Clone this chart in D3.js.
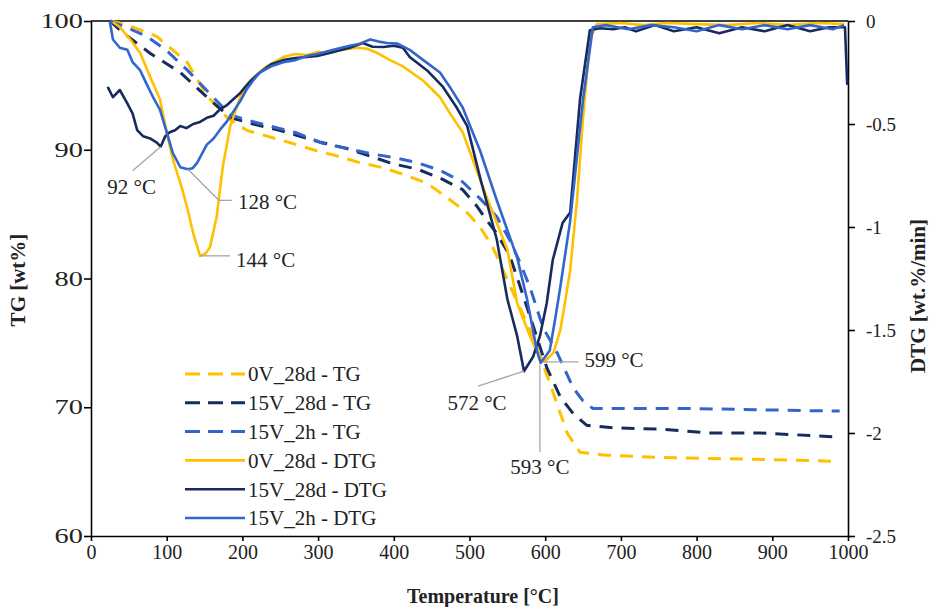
<!DOCTYPE html>
<html>
<head>
<meta charset="utf-8">
<script src="https://cdn.jsdelivr.net/npm/d3@7"></script>
<style>
  body { margin: 0; background: #fff; }
  text { font-family: "Liberation Serif", "Times New Roman", serif; fill: #222; }
</style>
</head>
<body>
<svg id="chart" width="934" height="607"></svg>
<script>
// TG / DTG curves
const tempTicks = [0, 100, 200, 300, 400, 500, 600, 700, 800, 900, 1000];
const tgTicks = [60, 70, 80, 90, 100];
const dtgTicks = [-2.5, -2, -1.5, -1, -0.5, 0];

const seriesNames = ["0V_28d", "15V_28d", "15V_2h"];
const seriesColors = ["#FFC000", "#172B5C", "#3366CC"];

// TG [wt%] vs temperature
const tg0V28d = [[25,100],[48,99.7],[87,98.8],[127,96.8],[153,94.2],[180,92.5],[206,91.5],[254,90.7],[299,89.9],[320,89.6],[355,89.0],[386,88.6],[417,88.0],[444,87.4],[470,86.3],[497,85.1],[514,84.0],[531,82.4],[553,79.5],[580,76.0],[606,71.9],[629,68.0],[646,66.5],[676,66.3],[752,66.1],[840,66.0],[927,65.9],[985,65.8]];
const tg15V28d = [[25,100],[42,99.1],[78,97.5],[118,96.0],[153,94.1],[184,92.5],[214,92.0],[250,91.5],[302,90.6],[338,90.1],[369,89.5],[399,88.9],[431,88.5],[461,87.8],[491,86.9],[510,85.6],[523,84.5],[536,83.5],[553,81.8],[573,78.3],[602,73.1],[620,70.8],[637,69.5],[655,68.6],[690,68.4],[752,68.3],[818,68.0],[884,68.0],[985,67.7]];
const tg15V2h = [[25,100],[55,99.3],[74,98.8],[100,97.7],[127,96.2],[153,94.6],[184,92.7],[219,92.1],[272,91.3],[306,90.5],[338,90.1],[369,89.7],[399,89.4],[431,89.0],[461,88.4],[491,87.5],[514,86.2],[536,84.8],[553,83.0],[567,81.2],[580,79.3],[597,76.2],[616,74.2],[637,71.5],[650,70.5],[663,69.9],[708,69.9],[795,69.9],[884,69.8],[989,69.7]];

// DTG [wt.%/min] vs temperature
const dtg0V28d = [[29,-0.005],[38,-0.03],[52,-0.09],[65,-0.155],[78,-0.27],[91,-0.38],[100,-0.54],[108,-0.67],[120,-0.81],[128,-0.92],[135,-1.03],[144,-1.14],[151,-1.13],[157,-1.10],[166,-0.95],[174,-0.71],[184,-0.51],[197,-0.37],[210,-0.29],[232,-0.22],[254,-0.175],[270,-0.16],[285,-0.165],[299,-0.15],[315,-0.155],[330,-0.14],[351,-0.13],[365,-0.135],[378,-0.155],[395,-0.19],[412,-0.22],[439,-0.29],[461,-0.37],[478,-0.47],[491,-0.54],[518,-0.81],[550,-1.11],[563,-1.37],[580,-1.53],[590,-1.61],[599,-1.655],[611,-1.61],[620,-1.50],[626,-1.37],[633,-1.21],[642,-0.87],[650,-0.47],[659,-0.09],[668,-0.015],[700,-0.01],[730,-0.02],[760,-0.01],[800,-0.015],[840,-0.02],[880,-0.01],[920,-0.02],[960,-0.01],[995,-0.015]];
const dtg15V28d = [[22,-0.32],[29,-0.37],[38,-0.335],[48,-0.40],[55,-0.45],[61,-0.53],[69,-0.56],[78,-0.57],[87,-0.59],[92,-0.61],[98,-0.56],[104,-0.54],[111,-0.53],[118,-0.51],[126,-0.52],[135,-0.50],[144,-0.49],[153,-0.47],[162,-0.46],[170,-0.43],[179,-0.41],[188,-0.38],[197,-0.35],[206,-0.31],[214,-0.28],[223,-0.25],[238,-0.21],[254,-0.19],[270,-0.18],[285,-0.175],[299,-0.17],[320,-0.15],[342,-0.13],[359,-0.107],[372,-0.125],[386,-0.126],[400,-0.12],[412,-0.13],[421,-0.175],[444,-0.24],[465,-0.32],[483,-0.42],[497,-0.51],[514,-0.76],[536,-1.06],[550,-1.35],[563,-1.53],[572,-1.70],[584,-1.63],[593,-1.53],[602,-1.37],[610,-1.16],[623,-0.98],[633,-0.93],[646,-0.38],[659,-0.045],[672,-0.035],[690,-0.04],[705,-0.03],[720,-0.05],[745,-0.02],[770,-0.05],[800,-0.03],[830,-0.06],[860,-0.03],[890,-0.05],[920,-0.02],[950,-0.05],[975,-0.03],[996,-0.03],[999,-0.31]];
const dtg15V2h = [[25,-0.005],[29,-0.09],[38,-0.13],[48,-0.14],[55,-0.20],[65,-0.24],[74,-0.31],[82,-0.37],[91,-0.43],[100,-0.54],[108,-0.64],[118,-0.71],[128,-0.72],[134,-0.715],[140,-0.69],[153,-0.60],[162,-0.57],[170,-0.53],[179,-0.49],[188,-0.44],[197,-0.39],[206,-0.33],[214,-0.29],[223,-0.25],[238,-0.22],[254,-0.20],[270,-0.19],[285,-0.17],[299,-0.16],[320,-0.14],[342,-0.12],[355,-0.11],[369,-0.09],[380,-0.10],[391,-0.107],[405,-0.11],[421,-0.14],[439,-0.19],[461,-0.25],[474,-0.32],[491,-0.42],[514,-0.63],[536,-0.87],[563,-1.15],[576,-1.35],[589,-1.60],[594,-1.66],[606,-1.60],[613,-1.45],[620,-1.29],[633,-0.97],[650,-0.38],[663,-0.03],[680,-0.02],[710,-0.04],[740,-0.02],[770,-0.03],[800,-0.05],[830,-0.02],[860,-0.04],[890,-0.02],[920,-0.04],[950,-0.02],[980,-0.04],[995,-0.02]];

const tgData = [tg0V28d, tg15V28d, tg15V2h];
const dtgData = [dtg0V28d, dtg15V28d, dtg15V2h];

// peak labels: temperature, DTG value at the minimum
const peakLabels = ["92 °C", "128 °C", "144 °C", "572 °C", "593 °C", "599 °C"];
const peakTemps = [92, 128, 144, 572, 593, 599];
const peakDtg = [-0.61, -0.72, -1.14, -1.70, -1.67, -1.655];

let margin = {top: 21, right: 86, bottom: 71, left: 91};
let width = 934 - margin.left - margin.right,
    height = 607 - margin.top - margin.bottom;

const svg = d3.select("#chart");
const g = svg.append("g")
    .attr("transform", `translate(${margin.left}, ${margin.top})`);

const x = d3.scaleLinear().domain([0, 1000]).range([0, width]);
const yTG = d3.scaleLinear().domain([60, 100]).range([height, 0]);
const yDTG = d3.scaleLinear().domain([-2.5, 0]).range([height, 0]);

// top frame line
g.append("line")
    .attr("x1", 0).attr("x2", width).attr("y1", 0).attr("y2", 0)
    .attr("stroke", "#000").attr("stroke-width", 1.6);

// X axis
const xAxis = g.append("g")
    .attr("transform", `translate(0, ${height})`)
    .call(d3.axisBottom(x).tickValues(tempTicks).tickSize(5).tickPadding(4)
        .tickSizeOuter(0).tickFormat(d3.format("d")));
xAxis.selectAll("text").style("font-size", "20px");

// left axis (TG)
const yAxisL = g.append("g")
    .call(d3.axisLeft(yTG).tickValues(tgTicks).tickSize(7).tickSizeOuter(0));
yAxisL.selectAll("text")
    .attr("x", -6)
    .attr("transform", "scale(1.35,1)")
    .style("font-size", "21px");

// right axis (DTG)
const yAxisR = g.append("g")
    .attr("transform", `translate(${width}, 0)`)
    .call(d3.axisRight(yDTG).tickValues(dtgTicks).tickSize(7).tickPadding(11)
        .tickSizeOuter(0).tickFormat(d => String(d)));
yAxisR.selectAll("text").style("font-size", "19px");

g.selectAll(".domain").attr("stroke", "#000").attr("stroke-width", 1.6);
g.selectAll(".tick line").attr("stroke", "#000").attr("stroke-width", 1.6);

// lines
const tgLine = d3.line().x(d => x(d[0])).y(d => yTG(d[1]));
const dtgLine = d3.line().x(d => x(d[0])).y(d => yDTG(d[1]));

g.selectAll(".tg")
    .data(tgData)
    .enter()
    .append("path")
    .attr("class", "tg")
    .attr("d", tgLine)
    .attr("fill", "none")
    .attr("stroke", (d, i) => seriesColors[i])
    .attr("stroke-width", 3)
    .attr("stroke-dasharray", "13,9");

g.selectAll(".dtg")
    .data(dtgData)
    .enter()
    .append("path")
    .attr("class", "dtg")
    .attr("d", dtgLine)
    .attr("fill", "none")
    .attr("stroke", (d, i) => seriesColors[i])
    .attr("stroke-width", 2.6)
    .attr("stroke-linejoin", "round");

// peak leaders and labels (leader path offsets in px, then text position)
const leaders = [
    {pts: [[0, 0], [-28, 24]], tx: -29, ty: 40, anchor: "middle"},
    {pts: [[0, 0], [31, 31], [44, 31]], tx: 50, ty: 32, anchor: "start"},
    {pts: [[0, 0], [30, 0]], tx: 36, ty: 4, anchor: "start"},
    {pts: [[0, 0], [-46, 15]], tx: -47, ty: 31, anchor: "middle"},
    {pts: [[0, 0], [0, 87]], tx: 0, ty: 102, anchor: "middle"},
    {pts: [[0, 0], [34, 0]], tx: 40, ty: -2, anchor: "start"}
];

peakLabels.forEach(function(label, i) {
    const px = x(peakTemps[i]), py = yDTG(peakDtg[i]);
    const lead = leaders[i];
    g.append("path")
        .attr("d", d3.line()(lead.pts.map(p => [px + p[0], py + p[1]])))
        .attr("fill", "none")
        .attr("stroke", "#A6A6A6")
        .attr("stroke-width", 1.3);
    g.append("text")
        .attr("x", px + lead.tx)
        .attr("y", py + lead.ty)
        .attr("dy", "0.35em")
        .attr("text-anchor", lead.anchor)
        .style("font-size", "21px")
        .text(label);
});

// legend
const legendItems = [];
seriesNames.forEach((n, i) => legendItems.push({name: n + " - TG", color: seriesColors[i], dashed: true}));
seriesNames.forEach((n, i) => legendItems.push({name: n + " - DTG", color: seriesColors[i], dashed: false}));

const legend = svg.append("g").attr("transform", "translate(185, 374)");
legendItems.forEach(function(d, i) {
    const row = legend.append("g").attr("transform", `translate(0, ${i * 28.8})`);
    row.append("line")
        .attr("x1", 0).attr("x2", 60).attr("y1", 0).attr("y2", 0)
        .attr("stroke", d.color)
        .attr("stroke-width", d.dashed ? 3 : 2.6)
        .attr("stroke-dasharray", d.dashed ? "15,8" : null);
    row.append("text")
        .attr("x", 63)
        .attr("dy", "0.35em")
        .style("font-size", "21px")
        .text(d.name);
});

// axis titles
svg.append("text")
    .attr("x", 483).attr("y", 596)
    .attr("dy", "0.35em")
    .style("text-anchor", "middle")
    .style("font-size", "20px")
    .style("font-weight", "bold")
    .text("Temperature  [°C]");

svg.append("text")
    .attr("transform", "translate(18, 280) rotate(-90)")
    .attr("dy", "0.35em")
    .style("text-anchor", "middle")
    .style("font-size", "21px")
    .style("font-weight", "bold")
    .text("TG  [wt%]");

svg.append("text")
    .attr("transform", "translate(918, 296) rotate(-90)")
    .attr("dy", "0.35em")
    .style("text-anchor", "middle")
    .style("font-size", "21px")
    .style("font-weight", "bold")
    .text("DTG  [wt.%/min]");
</script>
</body>
</html>
